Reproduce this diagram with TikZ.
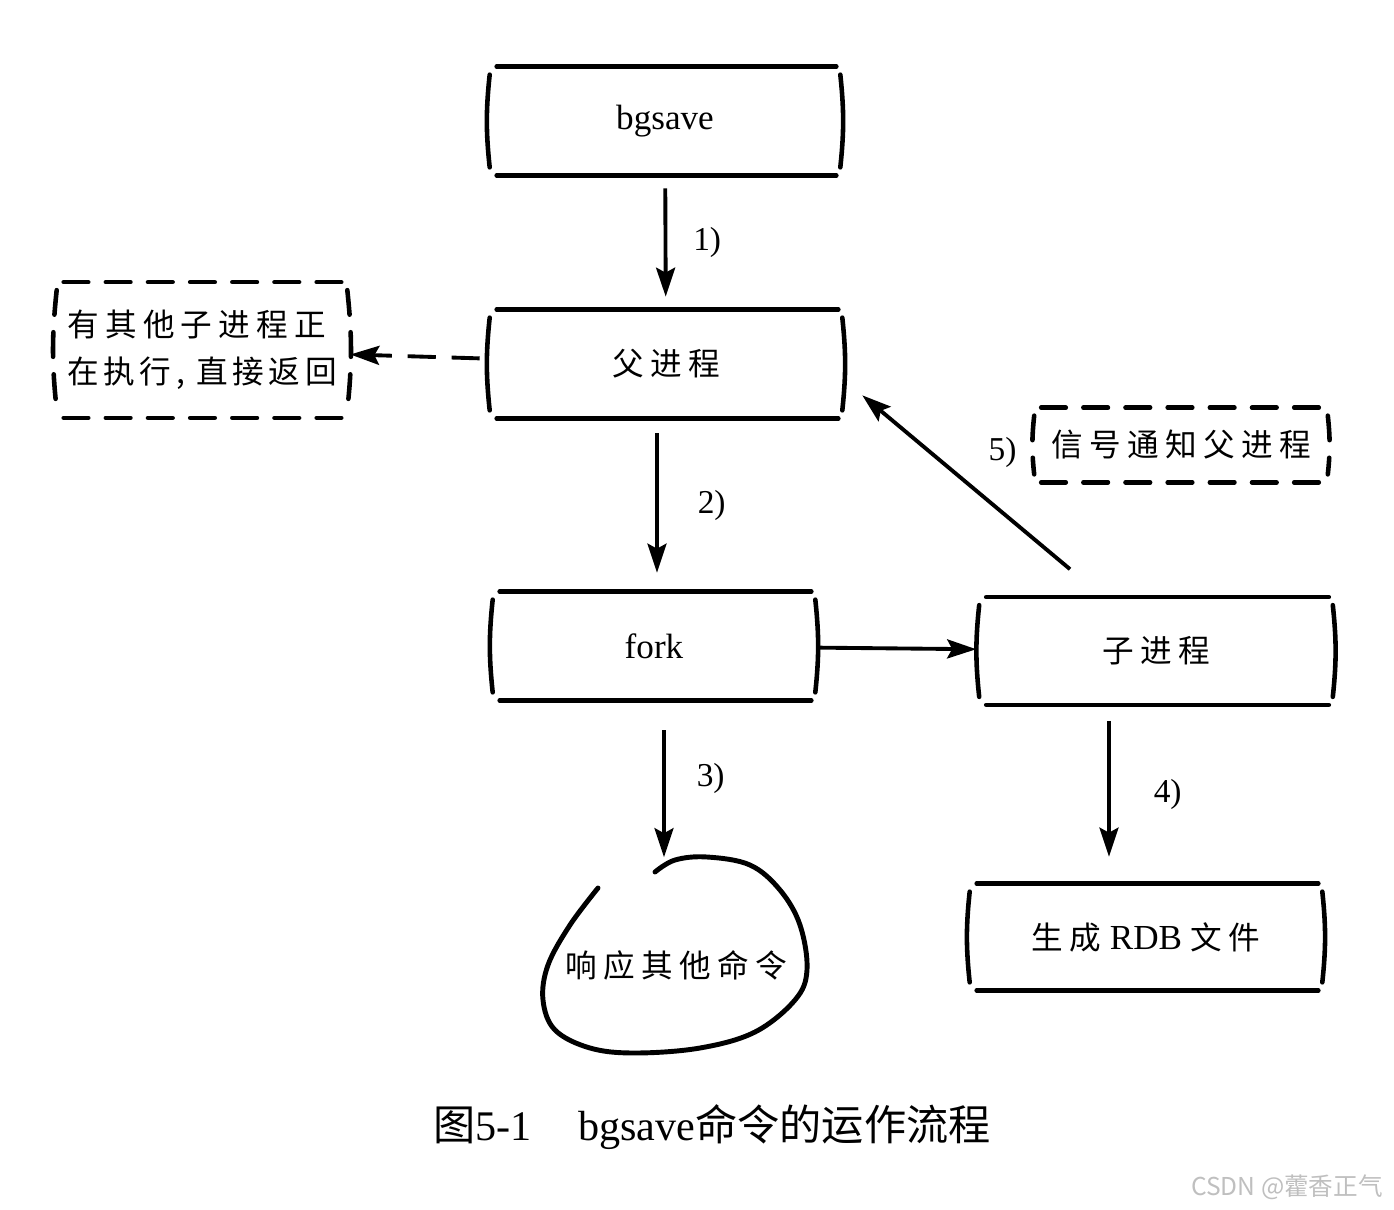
\documentclass[tikz,border=0pt]{standalone}
\usepackage{fontspec}
\setmainfont{Liberation Serif}
\newfontfamily\cjk{Noto Sans CJK SC}[LetterSpace=20]
\newfontfamily\cjkplain{Noto Sans CJK SC}
\usetikzlibrary{arrows.meta}
\usetikzlibrary{calc}

\begin{document}
\begin{tikzpicture}[x=0.02cm, y=-0.02cm,
    sbox/.style={minimum width=7cm, minimum height=2.16cm, inner sep=0pt, font=\fontsize{20}{24}\selectfont},
    zh/.style={font=\cjk\fontsize{18}{27}\selectfont},
    sketch/.style={line width=2.6pt, line cap=round},
    dsketch/.style={sketch, dash pattern=on 14pt off 10pt},
    arrow/.style={-{Stealth[length=0.58cm, width=0.38cm, inset=0.1cm]}, line width=2.2pt},
    lbl/.style={font=\fontsize{19}{22}\selectfont}]

  \useasboundingbox (0,0) rectangle (1394,1210);

  % boxes
  \node [sbox] (bgsave) at (665,121) {bgsave};
  \node [sbox, zh, minimum width=7.04cm] (parent) at (666,364) {父进程};
  \node [sbox, minimum width=6.44cm] (fork) at (654,646) {fork};
  \node [sbox, zh, minimum width=7.06cm, minimum height=2.14cm] (child) at (1156,651) {子进程};
  \node [sbox, minimum width=7.04cm, minimum height=2.12cm] (rdb) at (1146,937)
    {{\cjk\fontsize{18}{27}\selectfont 生成} RDB {\cjk\fontsize{18}{27}\selectfont 文件}};

  % notes
  \node [zh, minimum width=5.8cm, minimum height=2.7cm, align=left] (busy) at (202,350)
    {有其他子进程正\\{\addfontfeature{LetterSpace=15}在执行,\hspace{0.35em}直接返回}};
  \node [zh, minimum width=5.86cm, minimum height=1.48cm] (notify) at (1181,445) {信号通知父进程};

  \node [zh, minimum width=5.3cm, minimum height=4.3cm] (reply) at (676,965) {响应其他命令};

  \foreach \n in {bgsave,parent,fork,child,rdb} {
    \draw [sketch] ([shift={(7,0)}]\n.north west) -- ([shift={(-4,0)}]\n.north east);
    \draw [sketch] ([shift={(7,0)}]\n.south west) -- ([shift={(-4,0)}]\n.south east);
    \draw [sketch] ([shift={(0,8)}]\n.north west) to [bend right=6] ([shift={(0,-8)}]\n.south west);
    \draw [sketch] ([shift={(0,8)}]\n.north east) to [bend left=6] ([shift={(0,-8)}]\n.south east);
  }
  \foreach \n in {busy,notify} {
    \draw [dsketch] ([shift={(7,0)}]\n.north west) -- ([shift={(-4,0)}]\n.north east);
    \draw [dsketch] ([shift={(7,0)}]\n.south west) -- ([shift={(-4,0)}]\n.south east);
    \draw [dsketch] ([shift={(0,8)}]\n.north west) to [bend right=6] ([shift={(0,-8)}]\n.south west);
    \draw [dsketch] ([shift={(0,8)}]\n.north east) to [bend left=6] ([shift={(0,-8)}]\n.south east);
  }

  % the blob round the reply
  \draw [sketch, line width=2.8pt] plot [smooth, tension=0.6] coordinates {(598,888) (570,925) (548,965)
    (543,1000) (555,1030) (590,1048) (635,1053) (700,1048) (755,1032) (795,1000) (807,970)
    (800,925) (780,890) (750,865) (707,857) (675,860) (655,872)};

  % steps
  \draw [arrow, shorten <=0.26cm, shorten >=0.26cm] (bgsave) -- node [lbl, right=0.4cm] {1)} (parent);
  \draw [arrow, shorten <=0.3cm, shorten >=0.38cm] ([shift={(-9,0)}]parent.south) -- node [lbl, right=0.66cm] {2)} ([shift={(3,0)}]fork.north);
  \draw [arrow, shorten <=0.6cm] ([shift={(10,0)}]fork.south) -- node [lbl, right=0.5cm] {3)} ([shift={(-12,0)}]reply.north);
  \draw [arrow, shorten <=0.06cm, shorten >=0.06cm] (fork) -- (child);
  \draw [arrow, shorten <=0.32cm, shorten >=0.54cm] ([shift={(-47,0)}]child.south) -- node [lbl, right=0.74cm] {4)} ([shift={(-37,0)}]rdb.north);
  \draw [arrow] ([shift={(-86,-28)}]child.north) -- node [lbl, pos=0.67, right=1cm] {5)} ([shift={(20,-23)}]parent.south east);
  \draw [arrow, dash pattern=on 16pt off 9pt, shorten <=0.2cm, shorten >=0.06cm] (parent) -- (busy);

  % caption
  \node [font=\fontsize{24}{28}\selectfont] (caption) at (712,1127)
    {{\cjkplain 图}5-1\hspace{1.1em}bgsave{\cjkplain 命令的运作流程}};
  \node [font=\cjkplain\fontsize{14}{16}\selectfont, text=black!25] (mark) at (1287,1187) {CSDN @藿香正气};

\end{tikzpicture}
\end{document}
